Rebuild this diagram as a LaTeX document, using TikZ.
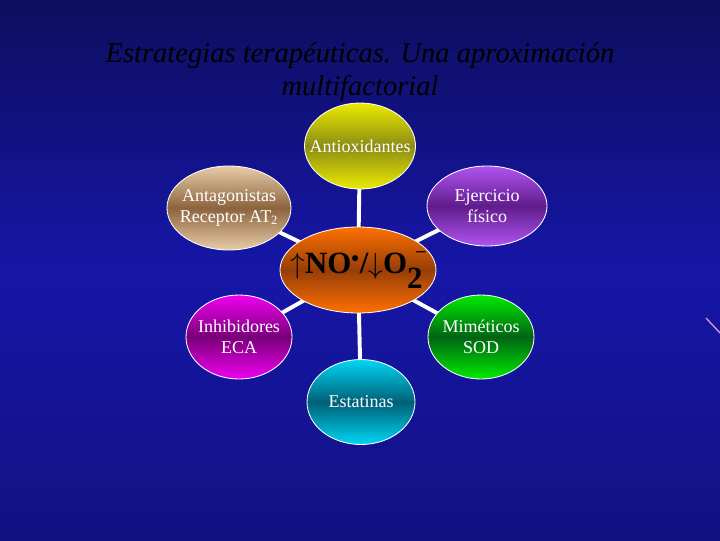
\documentclass[tikz,border=0pt]{standalone}
\usepackage{fontspec}
\setmainfont{Liberation Serif}
\usetikzlibrary{shapes.geometric,backgrounds}

\definecolor{bgtop}{RGB}{14,14,96}
\definecolor{bgmid}{RGB}{22,22,168}
\definecolor{bgbot}{RGB}{18,18,130}
\definecolor{noOut}{RGB}{255,112,0}
\definecolor{noIn}{RGB}{150,62,8}
\definecolor{antiOut}{RGB}{235,235,0}
\definecolor{antiIn}{RGB}{140,140,20}
\definecolor{antagOut}{RGB}{232,204,168}
\definecolor{antagIn}{RGB}{140,100,62}
\definecolor{ejerOut}{RGB}{176,84,240}
\definecolor{ejerIn}{RGB}{96,28,140}
\definecolor{iecaOut}{RGB}{240,0,240}
\definecolor{iecaIn}{RGB}{120,0,120}
\definecolor{sodOut}{RGB}{0,235,0}
\definecolor{sodIn}{RGB}{0,100,20}
\definecolor{estaOut}{RGB}{0,214,244}
\definecolor{estaIn}{RGB}{0,96,120}

\begin{document}
\begin{tikzpicture}[x=0.025cm, y=-0.025cm,
    blob/.style={ellipse, draw=white, line width=0.6pt, inner sep=-8pt,
        text=white, align=center, font=\fontsize{12.8}{14.5}\selectfont},
    size/.style 2 args={minimum width=#1*0.025cm, minimum height=#2*0.025cm},
    link/.style={white, line width=2.8pt},
    shadeit/.style={top color=#1Out, bottom color=#1Out, middle color=#1In}]

    \useasboundingbox (0,0) rectangle (720,540);
    \begin{scope}[on background layer]
        \shade[top color=bgtop, bottom color=bgbot, middle color=bgmid] (0,0) rectangle (720,540);
        \draw[violet!40!white, line width=1pt] (706,318) -- (720,333);
    \end{scope}

    \node[font=\itshape\fontsize{20.3}{24}\selectfont, align=center] (title) at (360,72)
        {Estrategias terapéuticas. Una aproximación\\multifactorial};

    % hub and the six strategies
    \node[blob, size={156}{86}, shadeit=no, inner sep=-15pt,
        text=black, font=\bfseries\fontsize{22}{26}\selectfont] (no) at (358,270)
        {$\uparrow$NO$^{\scriptscriptstyle\bullet}$/$\downarrow$O\rlap{\raisebox{-1.1ex}{2}}\hspace{0.3em}\raisebox{1.2ex}{\fontsize{13}{13}\selectfont --}};

    \node[blob, size={104}{86}, shadeit=anti] (anti) at (360,146) {Antioxidantes};
    \node[blob, size={124}{84}, shadeit=antag] (antag) at (229,208)
        {Antagonistas\\Receptor AT\textsubscript{2}};
    \node[blob, size={120}{80}, shadeit=ejer] (ejer) at (487,206)
        {Ejercicio\\físico};
    \node[blob, size={106}{84}, shadeit=ieca] (ieca) at (239,337)
        {Inhibidores\\ECA};
    \node[blob, size={106}{84}, shadeit=sod] (sod) at (481,337)
        {Miméticos\\SOD};
    \node[blob, size={108}{85}, shadeit=esta] (esta) at (361,402)
        {Estatinas};

    \begin{scope}[on background layer]
        \foreach \n in {anti, antag, ejer, ieca, sod, esta}
            \draw[link] (no.center) -- (\n.center);
    \end{scope}

\end{tikzpicture}
\end{document}
